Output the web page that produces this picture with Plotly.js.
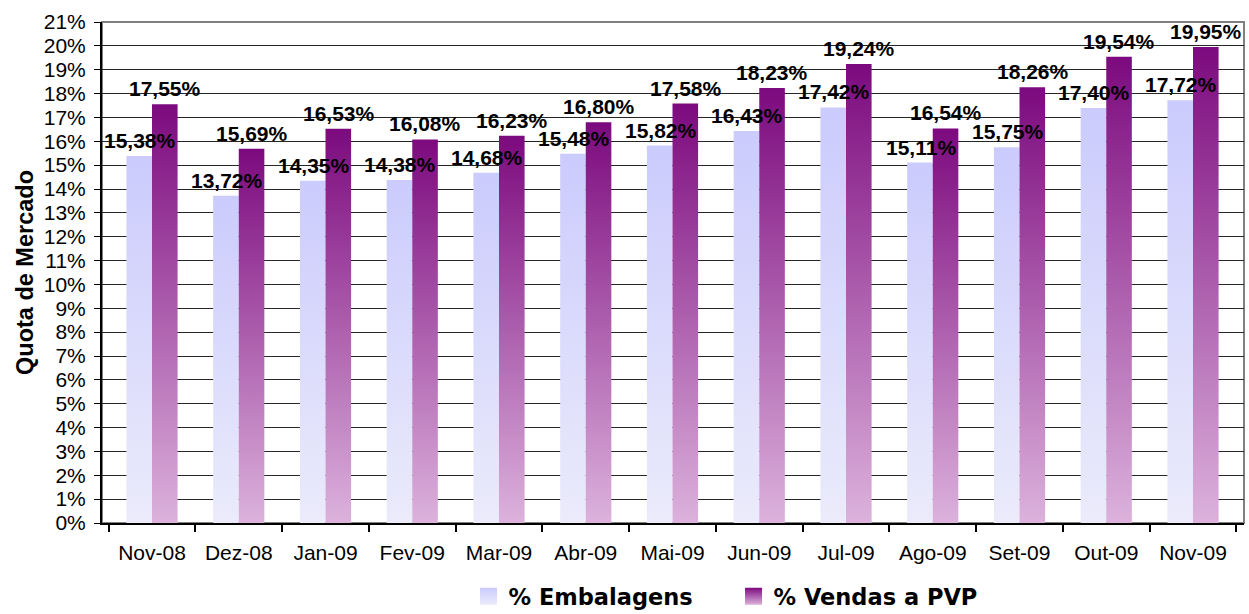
<!DOCTYPE html>
<html>
<head>
<meta charset="utf-8">
<script src="https://cdn.plot.ly/plotly-3.0.1.min.js"></script>
<style>
html,body{margin:0;padding:0;background:#fff;}
#chart{width:1249px;height:614px;}
</style>
</head>
<body>
<div id="chart"></div>
<script>
const categories = ["Nov-08","Dez-08","Jan-09","Fev-09","Mar-09","Abr-09","Mai-09","Jun-09","Jul-09","Ago-09","Set-09","Out-09","Nov-09"];
const embalagens = [15.38,13.72,14.35,14.38,14.68,15.48,15.82,16.43,17.42,15.11,15.75,17.40,17.72];
const vendasPVP  = [17.55,15.69,16.53,16.08,16.23,16.80,17.58,18.23,19.24,16.54,18.26,19.54,19.95];
const seriesNames = ["% Embalagens","% Vendas a PVP"];

function fmt(v){ return v.toFixed(2).replace('.', ',') + '%'; }

const traces = [
  {type:'bar', name:seriesNames[0], x:categories, y:embalagens, marker:{color:'#d9d9fb'}, hoverinfo:'skip'},
  {type:'bar', name:seriesNames[1], x:categories, y:vendasPVP, marker:{color:'#a050a0'}, hoverinfo:'skip'}
];

const arial = 'Liberation Sans, Arial, sans-serif';
const labelFont = {family:arial, size:21, color:'#000'};
const annotations = [];
categories.forEach((c,i)=>{
  annotations.push({x:c, y:embalagens[i], xref:'x', yref:'y', text:'<b>'+fmt(embalagens[i])+'</b>', showarrow:false, yanchor:'bottom', xshift:-12, yshift:2, font:labelFont});
  annotations.push({x:c, y:vendasPVP[i], xref:'x', yref:'y', text:'<b>'+fmt(vendasPVP[i])+'</b>', showarrow:false, yanchor:'bottom', xshift:13, yshift:2, font:labelFont});
});

const layout = {
  width:1249, height:614,
  margin:{l:102, r:5, t:22, b:91, autoexpand:false},
  paper_bgcolor:'#fff', plot_bgcolor:'#fff',
  barmode:'group', bargap:0.41, bargroupgap:0,
  showlegend:true,
  legend:{orientation:'h', x:0.553, xanchor:'center', y:-0.147, yanchor:'middle',
    font:{family:'DejaVu Sans, Verdana, sans-serif', size:22.5, color:'#000', weight:'bold'},
    itemwidth:30, traceorder:'normal', entrywidth:220, entrywidthmode:'pixels'},
  font:{family:arial, size:21, color:'#000'},
  xaxis:{type:'category', showline:true, linecolor:'#000', linewidth:2, ticks:'outside', tickson:'boundaries', ticklen:7, tickcolor:'#000', tickwidth:2,
    tickfont:{family:arial, size:21, color:'#000'}, ticklabelstandoff:10, showgrid:false, zeroline:false, fixedrange:true},
  yaxis:{range:[0,21], dtick:1, tick0:0, ticksuffix:'%', showline:true, linecolor:'#000', linewidth:2, ticks:'outside', ticklen:6, tickcolor:'#000', tickwidth:1,
    tickfont:{family:arial, size:21, color:'#000'}, ticklabelstandoff:4,
    showgrid:true, gridcolor:'#262626', gridwidth:1, zeroline:false, fixedrange:true,
    title:{text:'<b>Quota de Mercado</b>', font:{family:arial, size:23.5, color:'#000'}, standoff:4}},
  shapes:[{type:'rect', xref:'paper', yref:'paper', x0:0, x1:1, y0:0, y1:1, line:{color:'#808080', width:2}, layer:'below'}],
  annotations:annotations
};

Plotly.newPlot('chart', traces, layout, {displayModeBar:false, staticPlot:true}).then(gd=>{
  const svg = gd.querySelector('.main-svg');
  let defs = svg.querySelector('defs');
  const NS = 'http://www.w3.org/2000/svg';
  function grad(id, top, bottom){
    const g = document.createElementNS(NS,'linearGradient');
    g.setAttribute('id', id); g.setAttribute('x1','0'); g.setAttribute('y1','0'); g.setAttribute('x2','0'); g.setAttribute('y2','1');
    [[0,top],[1,bottom]].forEach(([o,c])=>{
      const s = document.createElementNS(NS,'stop'); s.setAttribute('offset', o); s.setAttribute('stop-color', c); g.appendChild(s);
    });
    defs.appendChild(g);
  }
  grad('gradEmb', '#cbcbfd', '#ebebfb');
  grad('gradPVP', '#7c0a7e', '#dcb2dc');
  const ids = ['gradEmb','gradPVP'];
  gd.querySelectorAll('.barlayer .trace').forEach((t,i)=>{
    t.querySelectorAll('path').forEach(p=>{ p.style.fill = 'url(#'+ids[i]+')'; });
  });
  gd.querySelectorAll('.legend .traces').forEach((t,i)=>{
    t.querySelectorAll('.legendpoints path').forEach(p=>{
      p.setAttribute('d','M8.5,8.5H-8.5V-8.5H8.5Z');
      p.style.fill = 'url(#'+ids[i]+')';
      p.style.stroke = 'none';
    });
  });
});
</script>
</body>
</html>
